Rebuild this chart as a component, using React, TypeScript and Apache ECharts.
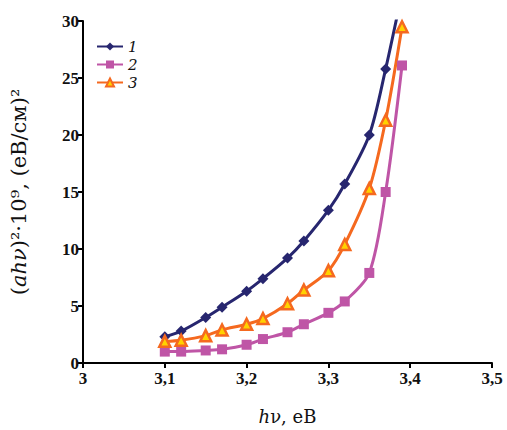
import React, { useEffect, useRef } from "react";
import * as echarts from "echarts";

const xValues = [3.1, 3.12, 3.15, 3.17, 3.2, 3.22, 3.25, 3.27, 3.3, 3.32, 3.35, 3.37, 3.39];
const series1 = [2.3, 2.8, 4.0, 4.9, 6.3, 7.4, 9.2, 10.7, 13.4, 15.7, 20.0, 25.8, 32.5];
const series2 = [1.0, 1.0, 1.1, 1.2, 1.6, 2.1, 2.7, 3.4, 4.4, 5.4, 7.9, 15.0, 26.1];
const series3 = [1.9, 2.0, 2.4, 2.9, 3.4, 3.9, 5.2, 6.4, 8.1, 10.4, 15.3, 21.3, 29.5];
const seriesNames = ["1", "2", "3"];
const xTicks = [3, 3.1, 3.2, 3.3, 3.4, 3.5];

const FONT = "DejaVu Serif";
const TICKFONT = "Liberation Serif";

export default function App() {
  const ref = useRef<HTMLDivElement>(null);
  useEffect(() => {
    if (!ref.current) return;
    const chart = echarts.init(ref.current, null, { renderer: "svg" });
    const pair = (ys: number[]) => xValues.map((x, i) => [x, ys[i]]);
    chart.setOption({
      animation: false,
      backgroundColor: "#ffffff",
      grid: { left: 82, right: 15, top: 21, bottom: 65, containLabel: false },
      legend: {
        orient: "vertical",
        left: 91,
        top: 34,
        itemWidth: 26,
        itemHeight: 10,
        itemGap: 3,
        textStyle: { fontFamily: FONT, fontStyle: "italic", fontSize: 15, lineHeight: 15, color: "#111" },
        data: seriesNames,
      },
      xAxis: {
        type: "value",
        min: 3,
        max: 3.5,
        interval: 0.1,
        name: "{i|h}ν, еВ",
        nameLocation: "middle",
        nameGap: 44,
        nameTextStyle: {
          fontFamily: FONT,
          fontSize: 18,
          color: "#111",
          rich: { i: { fontFamily: FONT, fontStyle: "italic", fontSize: 18, color: "#111" } },
        },
        axisLine: { show: true, onZero: false, lineStyle: { color: "#000", width: 2 } },
        axisTick: { show: true, inside: false, length: 5, lineStyle: { color: "#000", width: 2 } },
        splitLine: { show: false },
        axisLabel: {
          fontFamily: TICKFONT,
          fontSize: 17,
          fontWeight: "bold",
          color: "#111",
          margin: 7,
          formatter: (v: number) => {
            const t = xTicks.find((k) => Math.abs(k - v) < 1e-6);
            return t === undefined ? "" : String(t).replace(".", ",");
          },
        },
      },
      yAxis: {
        type: "value",
        min: 0,
        max: 30,
        interval: 5,
        name: "({i|ahν})²·10⁹, (еВ/см)²",
        nameLocation: "middle",
        nameGap: 54,
        nameRotate: 90,
        nameTextStyle: {
          fontFamily: FONT,
          fontSize: 21,
          color: "#111",
          rich: { i: { fontFamily: FONT, fontStyle: "italic", fontSize: 21, color: "#111" } },
        },
        axisLine: { show: true, lineStyle: { color: "#000", width: 2 } },
        axisTick: { show: true, inside: false, length: 5, lineStyle: { color: "#000", width: 2 } },
        splitLine: { show: false },
        axisLabel: { fontFamily: TICKFONT, fontSize: 17, fontWeight: "bold", color: "#111", margin: 4 },
      },
      series: [
        {
          name: seriesNames[0],
          type: "line",
          data: pair(series1),
          smooth: 0.3,
          clip: true,
          symbol: "diamond",
          symbolSize: 11,
          lineStyle: { color: "#27266f", width: 3 },
          itemStyle: { color: "#27266f" },
        },
        {
          name: seriesNames[1],
          type: "line",
          data: pair(series2),
          smooth: 0.3,
          clip: true,
          symbol: "rect",
          symbolSize: 10,
          lineStyle: { color: "#bf55a6", width: 3 },
          itemStyle: { color: "#bf55a6" },
        },
        {
          name: seriesNames[2],
          type: "line",
          data: pair(series3),
          smooth: 0.3,
          clip: true,
          symbol: "triangle",
          symbolSize: 11,
          lineStyle: { color: "#f5691f", width: 3 },
          itemStyle: { color: "#ffd200", borderColor: "#f5691f", borderWidth: 2.5 },
        },
      ],
    });
    return () => chart.dispose();
  }, []);
  return (
    <div
      ref={ref}
      style={{ position: "fixed", left: 0, top: 0, width: 507, height: 430 }}
    />
  );
}
